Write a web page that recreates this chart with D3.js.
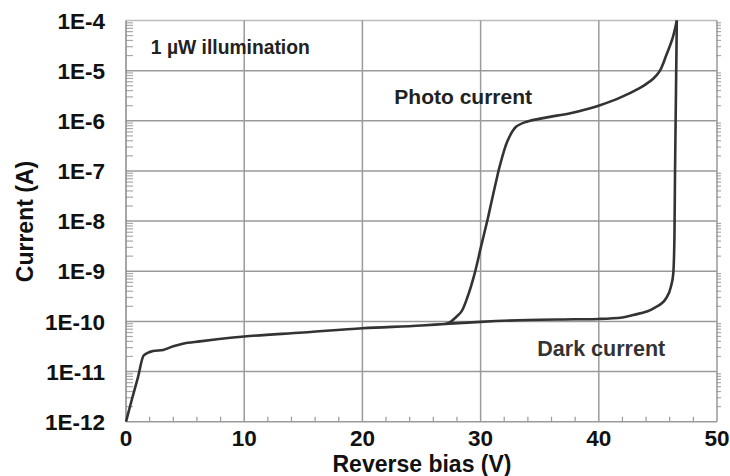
<!DOCTYPE html>
<html><head><meta charset="utf-8">
<script src="https://cdn.jsdelivr.net/npm/d3@7"></script>
<style>body{margin:0;background:#fff}svg{display:block}text{font-family:"Liberation Sans",Arial,sans-serif}</style>
</head><body><svg id="c" width="730" height="476"></svg>
<script>
const xTicks = [0, 10, 20, 30, 40, 50];
const yTicks = [1e-12, 1e-11, 1e-10, 1e-9, 1e-8, 1e-7, 1e-6, 1e-5, 1e-4];
const yTickLabels = ["1E-12","1E-11","1E-10","1E-9","1E-8","1E-7","1E-6","1E-5","1E-4"];
const darkV = [0, 0.5, 1.0, 1.5, 2.3, 3.15, 4.0, 4.8, 6.25, 7.7, 10, 15, 20, 25, 27, 30, 34, 38, 40, 42, 42.9, 44.6, 45.7, 46.1, 46.3, 46.4, 46.45, 46.5, 46.55, 46.6];
const darkI = [1e-12, 2.8e-12, 7.5e-12, 2.1e-11, 2.56e-11, 2.7e-11, 3.2e-11, 3.6e-11, 4.0e-11, 4.4e-11, 5.0e-11, 6.0e-11, 7.3e-11, 8.3e-11, 8.9e-11, 9.8e-11, 1.07e-10, 1.1e-10, 1.12e-10, 1.2e-10, 1.34e-10, 1.8e-10, 2.9e-10, 4.9e-10, 9e-10, 5e-9, 1e-7, 1e-6, 1e-5, 1e-4];
const photoV = [27, 27.4, 27.95, 28.4, 28.9, 29.5, 30.05, 30.6, 30.9, 31.3, 31.6, 32.3, 33.0, 33.9, 35.6, 37.5, 39.2, 40.1, 41.8, 43.45, 44.0, 44.6, 45.15, 45.7, 46.25, 46.6];
const photoI = [8.9e-11, 9.6e-11, 1.24e-10, 1.6e-10, 3.1e-10, 9.1e-10, 3.2e-9, 1.1e-8, 2.3e-8, 6.0e-8, 1.2e-7, 4.1e-7, 7.6e-7, 9.6e-7, 1.17e-6, 1.4e-6, 1.76e-6, 2.05e-6, 2.9e-6, 4.5e-6, 5.4e-6, 6.9e-6, 9.8e-6, 2.0e-5, 4.5e-5, 1e-4];
const xTitle = "Reverse bias (V)";
const yTitle = "Current (A)";
const notes = [
  {text: "1 µW illumination", v: 2.1, i: 2.1e-5, size: 19.3, color: "#222"},
  {text: "Photo current", v: 22.7, i: 2.2e-6, size: 21, color: "#222"},
  {text: "Dark current", v: 34.8, i: 2.0e-11, size: 21.5, color: "#333"}
];

const svg = d3.select("#c");
const L = 126, T = 20.5, R = 717, B = 421.7;
const x = d3.scaleLinear().domain([0, 50]).range([L, R]);
const y = d3.scaleLog().domain([1e-12, 1e-4]).range([B, T]);
const grid = "#9a9a9a";

const minors = [];
for (let e = -12; e < -4; e++) for (let k = 2; k <= 9; k++) minors.push(k * Math.pow(10, e));
svg.append("g").selectAll("line").data(minors).join("line")
  .attr("x1", L).attr("x2", L + 7).attr("y1", d => y(d)).attr("y2", d => y(d))
  .attr("stroke", "#aaa").attr("stroke-width", 1.2);
svg.append("g").selectAll("line").data(minors).join("line")
  .attr("x1", R - 1).attr("x2", R + 4).attr("y1", d => y(d)).attr("y2", d => y(d))
  .attr("stroke", "#aaa").attr("stroke-width", 1.2);
const xMin = d3.range(2, 50, 2).filter(d => d % 10 !== 0);
svg.append("g").selectAll("line").data(xMin).join("line")
  .attr("x1", d => x(d)).attr("x2", d => x(d)).attr("y1", B).attr("y2", B - 5)
  .attr("stroke", grid).attr("stroke-width", 1.2);

svg.append("g").selectAll("line").data(yTicks).join("line")
  .attr("x1", L).attr("x2", R).attr("y1", d => y(d)).attr("y2", d => y(d))
  .attr("stroke", d => d === 1e-4 ? "#bbb" : grid).attr("stroke-width", 1.5);
svg.append("g").selectAll("line").data(xTicks).join("line")
  .attr("x1", d => x(d)).attr("x2", d => x(d)).attr("y1", T).attr("y2", B)
  .attr("stroke", d => d === 0 ? "#888" : grid).attr("stroke-width", 1.5);

svg.append("g").selectAll("text").data(yTicks).join("text")
  .attr("x", 105).attr("y", d => y(d)).attr("dy", "0.36em").attr("text-anchor", "end")
  .attr("font-size", 22.5).attr("font-weight", "bold").attr("fill", "#111")
  .text((d, i) => yTickLabels[i]);
svg.append("g").selectAll("text").data(xTicks).join("text")
  .attr("x", d => x(d)).attr("y", 446).attr("text-anchor", "middle")
  .attr("font-size", 22.5).attr("font-weight", "bold").attr("fill", "#111")
  .text(d => d);

svg.append("text").attr("x", 422).attr("y", 472).attr("text-anchor", "middle")
  .attr("font-size", 23).attr("font-weight", "bold").attr("fill", "#111").text(xTitle);
svg.append("text").attr("transform", "translate(33,221.5) rotate(-90)").attr("text-anchor", "middle")
  .attr("font-size", 23).attr("font-weight", "bold").attr("fill", "#111").text(yTitle);

const darkLine = d3.line().x(d => x(d[0])).y(d => y(d[1])).curve(d3.curveMonotoneX);
const photoLine = d3.line().x(d => x(d[0])).y(d => y(d[1])).curve(d3.curveCatmullRom.alpha(0.5));
svg.append("path").datum(darkV.map((v, i) => [v, darkI[i]])).attr("d", darkLine)
  .attr("fill", "none").attr("stroke", "#333").attr("stroke-width", 2.6).attr("stroke-linejoin", "round");
svg.append("path").datum(photoV.map((v, i) => [v, photoI[i]])).attr("d", photoLine)
  .attr("fill", "none").attr("stroke", "#333").attr("stroke-width", 2.6).attr("stroke-linejoin", "round");

svg.append("g").selectAll("text").data(notes).join("text")
  .attr("x", d => x(d.v)).attr("y", d => y(d.i))
  .attr("font-size", d => d.size).attr("font-weight", "bold").attr("fill", d => d.color)
  .text(d => d.text);
</script></body></html>
